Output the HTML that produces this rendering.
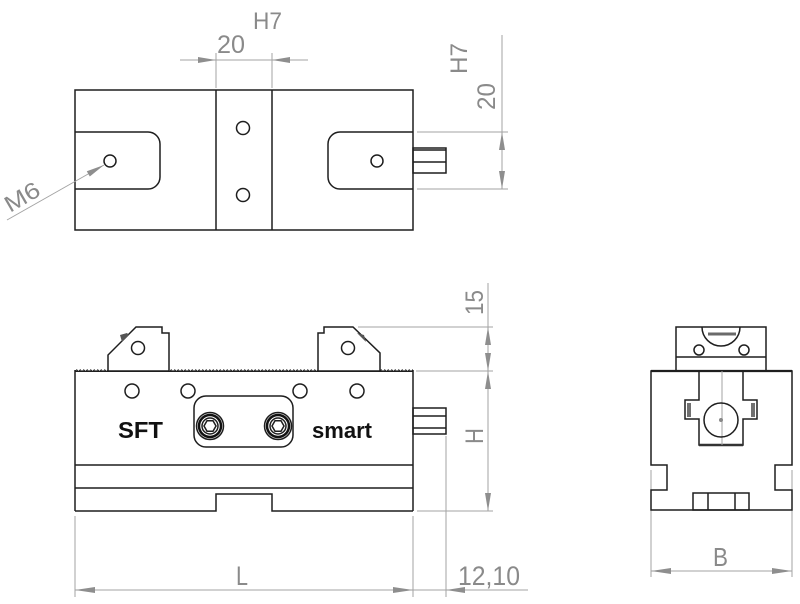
<!DOCTYPE html>
<html>
<head>
<meta charset="utf-8">
<style>
  html, body { margin: 0; padding: 0; background: #ffffff; }
  svg { display: block; }
  .k { fill: none; stroke: #1e1e1e; stroke-width: 1.5; }
  .kf { fill: #ffffff; stroke: #1e1e1e; stroke-width: 1.5; }
  .g { fill: none; stroke: #a3a3a3; stroke-width: 1; }
  .ar { fill: #8e8e8e; stroke: none; }
  .t { font-family: "Liberation Sans", sans-serif; fill: #8a8a8a; }
  .b { font-family: "Liberation Sans", sans-serif; font-weight: bold; fill: #111; }
</style>
</head>
<body>
<svg width="800" height="604" viewBox="0 0 800 604" xmlns="http://www.w3.org/2000/svg">
  <defs>
    <pattern id="serr" x="75" y="369" width="3.5" height="3" patternUnits="userSpaceOnUse">
      <path d="M0,2.6 L1.75,0.8 L3.5,2.6" fill="none" stroke="#1e1e1e" stroke-width="1"/>
    </pattern>
  </defs>

  <!-- ================= TOP VIEW ================= -->
  <rect class="k" x="75" y="90" width="338" height="140"/>
  <line class="k" x1="216" y1="90" x2="216" y2="230"/>
  <line class="k" x1="272" y1="90" x2="272" y2="230"/>
  <circle class="k" cx="243" cy="128" r="6.5"/>
  <circle class="k" cx="243" cy="195" r="6.5"/>
  <!-- left slot -->
  <path class="k" d="M75,132 H148 A12,12 0 0 1 160,144 V177 A12,12 0 0 1 148,189 H75"/>
  <circle class="k" cx="110" cy="161" r="6"/>
  <!-- right slot -->
  <path class="k" d="M413,132 H340 A12,12 0 0 0 328,144 V177 A12,12 0 0 0 340,189 H413"/>
  <circle class="k" cx="377" cy="161" r="6"/>
  <!-- peg -->
  <rect class="k" x="413" y="148" width="33" height="25"/>
  <line class="k" x1="413" y1="150" x2="446" y2="150"/>
  <line class="k" x1="413" y1="162" x2="446" y2="162"/>

  <!-- top dim 20 H7 -->
  <line class="g" x1="216" y1="53" x2="216" y2="88"/>
  <line class="g" x1="272" y1="53" x2="272" y2="88"/>
  <line class="g" x1="180" y1="60" x2="308" y2="60"/>
  <polygon class="ar" points="216,60 198,57 198,63"/>
  <polygon class="ar" points="272,60 290,57 290,63"/>
  <text class="t" x="217" y="53" font-size="25" textLength="28" lengthAdjust="spacingAndGlyphs">20</text>
  <text class="t" x="253" y="29" font-size="24" textLength="29" lengthAdjust="spacingAndGlyphs">H7</text>

  <!-- right dim 20 H7 -->
  <line class="g" x1="417" y1="132" x2="508" y2="132"/>
  <line class="g" x1="417" y1="189" x2="508" y2="189"/>
  <line class="g" x1="502" y1="35" x2="502" y2="189"/>
  <polygon class="ar" points="502,132 499,150 505,150"/>
  <polygon class="ar" points="502,189 499,171 505,171"/>
  <text class="t" transform="translate(467,74) rotate(-90)" font-size="24" textLength="31" lengthAdjust="spacingAndGlyphs">H7</text>
  <text class="t" transform="translate(495,110) rotate(-90)" font-size="25" textLength="27" lengthAdjust="spacingAndGlyphs">20</text>

  <!-- M6 leader -->
  <line class="g" x1="7" y1="220" x2="104" y2="165"/>
  <polygon class="ar" points="104,165 89.8,176.5 86.8,171.3"/>
  <text class="t" transform="translate(10,213) rotate(-30)" font-size="23" textLength="37" lengthAdjust="spacingAndGlyphs">M6</text>

  <!-- ================= FRONT VIEW ================= -->
  <!-- body -->
  <line class="k" x1="75" y1="370" x2="75" y2="511"/>
  <line class="k" x1="413" y1="370" x2="413" y2="511"/>
  <path class="k" d="M75,511 H216 V494 H272 V511 H413"/>
  <line class="k" x1="75" y1="465" x2="413" y2="465"/>
  <line class="k" x1="75" y1="488" x2="413" y2="488"/>
  <!-- serrated top -->
  <rect x="75" y="369" width="338" height="3" fill="url(#serr)"/>
  <line x1="75" y1="371.5" x2="413" y2="371.5" stroke="#1e1e1e" stroke-width="1"/>

  <!-- left jaw -->
  <polygon class="kf" points="108,371 108,355 136,327 162,327 162,333 169,333 169,371"/>
  <polygon fill="#555" points="120,335 127,333 129,335 122,342"/>
  <circle class="k" cx="138" cy="348" r="6.5"/>
  <!-- right jaw -->
  <polygon class="kf" points="318,371 318,333 324,333 324,327 353,327 380,353 380,371"/>
  <polygon fill="#555" points="357,333 364,335 366,342 359,335"/>
  <circle class="k" cx="348" cy="348" r="6.5"/>

  <!-- holes -->
  <circle class="k" cx="132" cy="391" r="7"/>
  <circle class="k" cx="188" cy="391" r="7"/>
  <circle class="k" cx="300" cy="391" r="7"/>
  <circle class="k" cx="357" cy="391" r="7"/>

  <!-- plate with screws -->
  <rect class="k" x="194" y="396" width="99" height="51" rx="12" ry="12"/>
  <g>
    <circle class="k" cx="210" cy="426" r="13.5" stroke-width="1.2"/>
    <circle cx="210" cy="426" r="11" fill="none" stroke="#111" stroke-width="2.5"/>
    <circle class="k" cx="210" cy="426" r="8" stroke-width="1.2"/>
    <polygon class="k" stroke-width="1.2" points="216,426 213,431.2 207,431.2 204,426 207,420.8 213,420.8"/>
  </g>
  <g>
    <circle class="k" cx="278" cy="426" r="13.5" stroke-width="1.2"/>
    <circle cx="278" cy="426" r="11" fill="none" stroke="#111" stroke-width="2.5"/>
    <circle class="k" cx="278" cy="426" r="8" stroke-width="1.2"/>
    <polygon class="k" stroke-width="1.2" points="284,426 281,431.2 275,431.2 272,426 275,420.8 281,420.8"/>
  </g>

  <text class="b" x="118" y="438" font-size="23" textLength="45" lengthAdjust="spacingAndGlyphs">SFT</text>
  <text class="b" x="312" y="438" font-size="22" textLength="60" lengthAdjust="spacingAndGlyphs">smart</text>

  <!-- peg front -->
  <rect class="k" x="413" y="408" width="33" height="26"/>
  <line class="k" x1="413" y1="416" x2="446" y2="416"/>
  <line class="k" x1="413" y1="428" x2="446" y2="428"/>

  <!-- right dims 15 / H -->
  <line class="g" x1="358" y1="327" x2="493" y2="327"/>
  <line class="g" x1="416" y1="371" x2="493" y2="371"/>
  <line class="g" x1="417" y1="511" x2="493" y2="511"/>
  <line class="g" x1="488" y1="283" x2="488" y2="511"/>
  <polygon class="ar" points="488,327 485,345 491,345"/>
  <polygon class="ar" points="488,371 485,353 491,353"/>
  <polygon class="ar" points="488,371 485,389 491,389"/>
  <polygon class="ar" points="488,511 485,493 491,493"/>
  <text class="t" transform="translate(483,315) rotate(-90)" font-size="25" textLength="25" lengthAdjust="spacingAndGlyphs">15</text>
  <text class="t" transform="translate(483,444) rotate(-90)" font-size="25" textLength="16" lengthAdjust="spacingAndGlyphs">H</text>

  <!-- bottom dims L / 12,10 -->
  <line class="g" x1="75" y1="516" x2="75" y2="597"/>
  <line class="g" x1="413" y1="516" x2="413" y2="597"/>
  <line class="g" x1="446" y1="436" x2="446" y2="597"/>
  <line class="g" x1="75" y1="590" x2="528" y2="590"/>
  <polygon class="ar" points="75,590 95,587 95,593"/>
  <polygon class="ar" points="413,590 393,587 393,593"/>
  <polygon class="ar" points="446,590 465,587 465,593"/>
  <text class="t" x="236" y="585" font-size="27" textLength="12" lengthAdjust="spacingAndGlyphs">L</text>
  <text class="t" x="458" y="585" font-size="27" textLength="62" lengthAdjust="spacingAndGlyphs">12,10</text>

  <!-- ================= SIDE VIEW ================= -->
  <line class="g" x1="651" y1="470" x2="651" y2="577"/>
  <line class="g" x1="792" y1="470" x2="792" y2="577"/>

  <!-- top block -->
  <rect class="k" x="676" y="327" width="90" height="44"/>
  <line class="k" x1="676" y1="357" x2="766" y2="357"/>
  <path class="k" d="M702,327 A19,19 0 0 0 740,327"/>
  <line x1="708" y1="334" x2="736" y2="334" stroke="#6a6a6a" stroke-width="3"/>
  <circle class="k" cx="699" cy="350" r="5"/>
  <circle class="k" cx="744" cy="350" r="5"/>

  <!-- body -->
  <path class="k" d="M651,371 H792 V465 H775 V490 H792 V510 H651 V490 H667 V465 H651 Z"/>
  <line x1="651" y1="371" x2="792" y2="371" stroke="#1e1e1e" stroke-width="2.2"/>
  <!-- slot -->
  <path class="k" d="M699,371 V400 H685 V419 H699 V445 H743 V419 H757 V400 H743 V371"/>
  <line x1="699" y1="445" x2="743" y2="445" stroke="#333" stroke-width="2.5"/>
  <rect x="687" y="403" width="4" height="14" fill="#707070"/>
  <rect x="751" y="403" width="4" height="14" fill="#707070"/>
  <line class="g" x1="722" y1="371" x2="722" y2="445"/>
  <circle class="k" cx="721" cy="420" r="17"/>
  <circle cx="721" cy="420" r="2" fill="#888"/>
  <!-- bottom tabs -->
  <rect class="k" x="693" y="493" width="56" height="17"/>
  <line class="k" x1="708" y1="493" x2="708" y2="510"/>
  <line class="k" x1="735" y1="493" x2="735" y2="510"/>

  <!-- B dim -->
  <line class="g" x1="651" y1="571" x2="792" y2="571"/>
  <polygon class="ar" points="651,571 671,568 671,574"/>
  <polygon class="ar" points="792,571 772,568 772,574"/>
  <text class="t" x="713" y="566" font-size="26" textLength="15" lengthAdjust="spacingAndGlyphs">B</text>

</svg>
</body>
</html>
